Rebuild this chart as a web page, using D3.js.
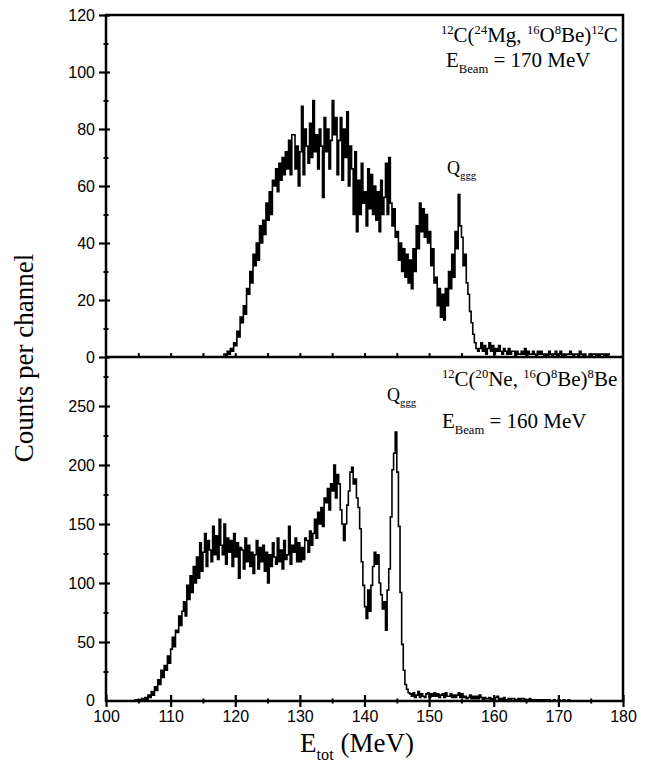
<!DOCTYPE html>
<html>
<head>
<meta charset="utf-8">
<script src="https://cdn.jsdelivr.net/npm/d3@7"></script>
<style>
  body { margin: 0; background: #fff; }
  svg { display: block; }
  text { white-space: pre; }
</style>
</head>
<body>
<svg id="chart" width="650" height="776"></svg>
<script>
// channel width of both spectra, MeV
const binWidth = 0.25;

// 12C(24Mg,16O8Be)12C, Ebeam = 170 MeV, first channel at 118 MeV
const mgStart = 118;
const mgCounts = [
  0, 1, 0, 2, 1, 3, 2, 5, 4, 9, 7, 14, 12, 18, 15, 24,
  22, 30, 26, 36, 32, 40, 34, 46, 40, 48, 43, 54, 48, 58, 50, 62,
  60, 66, 58, 68, 62, 70, 64, 72, 66, 76, 64, 78, 78, 66, 74, 60,
  72, 88, 64, 80, 74, 68, 82, 70, 90, 72, 78, 66, 80, 74, 56, 84,
  72, 80, 66, 76, 90, 78, 84, 64, 76, 84, 62, 80, 70, 86, 60, 74,
  66, 50, 72, 44, 62, 50, 68, 54, 58, 46, 66, 52, 64, 50, 60, 48,
  58, 44, 62, 50, 56, 68, 50, 70, 54, 46, 52, 42, 44, 34, 40, 30,
  38, 28, 36, 26, 34, 24, 38, 30, 46, 38, 54, 44, 52, 42, 50, 40,
  44, 32, 38, 26, 28, 18, 24, 14, 22, 13, 24, 18, 30, 24, 36, 28,
  44, 38, 57, 46, 42, 32, 36, 26, 22, 16, 12, 8, 5, 3, 2, 3,
  5, 2, 4, 1, 3, 5, 2, 4, 1, 3, 2, 4, 2, 1, 3, 2,
  1, 3, 1, 2, 2, 0, 2, 1, 1, 2, 1, 3, 0, 2, 1, 1,
  2, 1, 0, 2, 1, 2, 1, 0, 1, 0, 2, 1, 0, 1, 2, 0,
  1, 2, 0, 1, 0, 1, 1, 2, 1, 0, 1, 1, 0, 2, 1, 0,
  1, 0, 0, 1, 0, 1, 1, 0, 1, 0, 1, 1, 0, 1, 0, 1,
];

// 12C(20Ne,16O8Be)8Be, Ebeam = 160 MeV, first channel at 104 MeV
const neStart = 104;
const neCounts = [
  0, 0, 1, 0, 1, 0, 2, 1, 3, 1, 5, 3, 8, 5, 12, 9,
  18, 14, 26, 20, 30, 26, 38, 32, 44, 54, 46, 60, 58, 72, 64, 76,
  84, 72, 98, 86, 106, 92, 114, 100, 122, 104, 134, 110, 126, 142, 114, 136,
  128, 118, 148, 124, 140, 120, 154, 132, 124, 150, 116, 138, 126, 136, 114, 142,
  122, 134, 104, 130, 128, 112, 138, 118, 132, 114, 126, 108, 124, 136, 112, 130,
  118, 132, 110, 126, 100, 124, 114, 134, 122, 116, 138, 118, 128, 112, 136, 120,
  124, 148, 116, 132, 126, 138, 118, 134, 118, 130, 120, 138, 136, 126, 144, 132,
  142, 154, 138, 160, 150, 164, 148, 172, 168, 180, 162, 184, 178, 200, 172, 192,
  184, 162, 150, 136, 150, 166, 178, 194, 198, 184, 188, 172, 164, 146, 118, 98,
  80, 70, 94, 76, 98, 114, 126, 116, 124, 100, 90, 78, 84, 60, 94, 112,
  156, 196, 210, 228, 194, 148, 92, 48, 26, 14, 10, 7, 6, 4, 7, 3,
  5, 8, 3, 6, 4, 3, 6, 7, 3, 6, 4, 7, 4, 6, 3, 5,
  6, 3, 7, 4, 4, 6, 3, 5, 3, 5, 7, 3, 6, 3, 4, 2,
  3, 5, 2, 4, 2, 4, 2, 5, 3, 1, 3, 2, 2, 3, 1, 2,
  1, 3, 4, 1, 2, 1, 3, 1, 1, 2, 1, 2, 2, 1, 1, 2,
  1, 2, 2, 1, 1, 0, 2, 1, 1, 1, 0, 1, 0, 1, 1, 0,
  1, 0, 1, 0, 0, 1, 0, 0, 1, 0, 0, 1, 0, 0, 1, 0,
];

const xMajor = [100, 110, 120, 130, 140, 150, 160, 170, 180];
const xMinor = [105, 115, 125, 135, 145, 155, 165, 175];
const mgMajor = [0, 20, 40, 60, 80, 100, 120];
const mgMinor = [10, 30, 50, 70, 90, 110];
const neMajor = [0, 50, 100, 150, 200, 250];
const neMinor = [25, 75, 125, 175, 225, 275];

const serif = '"Liberation Serif", "Times New Roman", serif';
const sans = '"Liberation Sans", Arial, Helvetica, sans-serif';

const svg = d3.select('#chart');
const plotLeft = 106; const plotRight = 623;
const plotTop = 15; const plotMid = 357; const plotBottom = 701;

const x = d3.scaleLinear().domain([100, 180]).range([plotLeft, plotRight]);
const yMg = d3.scaleLinear().domain([0, 120]).range([plotMid, plotTop]);
const yNe = d3.scaleLinear().domain([0, 250]).range([plotBottom, 406]);

// spectra as step histograms
const toBins = (start, counts)=>{
  const pts = counts.map((c, i)=>[start + i*binWidth, c]);
  pts.push([start + counts.length*binWidth, counts[counts.length-1]]);
  return pts;
};

const drawSpectrum = (start, counts, y)=>{
  svg.append('path')
      .datum(toBins(start, counts))
      .attr('d', d3.line().x((d)=>x(d[0])).y((d)=>y(d[1])).curve(d3.curveStepAfter))
      .style('fill', 'none')
      .style('stroke', '#000')
      .style('stroke-width', 1.6)
      .style('stroke-linejoin', 'miter');
};

drawSpectrum(mgStart, mgCounts, yMg);
drawSpectrum(neStart, neCounts, yNe);

// ticks crossing the axis line: outer part with labels, inner part without
const addTicks = (axisFn, scale, pos, values, outer, inner, width, labels)=>{
  const g = svg.append('g').attr('transform', pos);
  if (outer > 0) {
    g.append('g').call(axisFn(scale).tickValues(values).tickSizeInner(outer).tickSizeOuter(0)
        .tickPadding(labels ? 4 : 0).tickFormat(labels ? d3.format('d') : ''));
  }
  g.append('g').call(axisFn(scale).tickValues(values).tickSizeInner(-inner).tickSizeOuter(0).tickFormat(''));
  g.selectAll('.domain').remove();
  g.selectAll('line').style('stroke', '#000').style('stroke-width', width);
  g.selectAll('text')
      .style('font-family', sans)
      .style('font-size', '16px')
      .style('fill', '#000');
  return g;
};

addTicks(d3.axisLeft, yMg, `translate(${plotLeft},0)`, mgMajor, 7, 4, 2.2, true);
addTicks(d3.axisLeft, yMg, `translate(${plotLeft},0)`, mgMinor, 2.5, 2.5, 2, false);
addTicks(d3.axisLeft, yNe, `translate(${plotLeft},0)`, neMajor.filter((v)=>v > 0), 7, 4, 2.2, true);
addTicks(d3.axisLeft, yNe, `translate(${plotLeft},0)`, neMinor, 2.5, 2.5, 2, false);
addTicks(d3.axisBottom, x, `translate(0,${plotBottom})`, xMajor, 6, 6, 2.2, true);
addTicks(d3.axisBottom, x, `translate(0,${plotBottom})`, xMinor, 2.5, 2.5, 2, false);
addTicks(d3.axisBottom, x, `translate(0,${plotMid})`, xMajor.slice(1, -1), 0, 4, 2, false);
addTicks(d3.axisBottom, x, `translate(0,${plotMid})`, xMinor, 0, 4, 2, false);

// bottom panel zero label sits on the x axis
svg.append('text')
    .attr('x', plotLeft - 11)
    .attr('y', yNe(0))
    .attr('dy', '0.32em')
    .attr('text-anchor', 'end')
    .style('font-family', sans)
    .style('font-size', '16px')
    .text('0');

// frame and panel divider
svg.append('rect')
    .attr('x', plotLeft).attr('y', plotTop)
    .attr('width', plotRight - plotLeft).attr('height', plotBottom - plotTop)
    .style('fill', 'none')
    .style('stroke', '#000')
    .style('stroke-width', 2.5);

svg.append('line')
    .attr('x1', plotLeft).attr('x2', plotRight)
    .attr('y1', plotMid).attr('y2', plotMid)
    .style('stroke', '#000')
    .style('stroke-width', 2.5);

// text with super / subscripts
const richText = (xPos, yPos, parts, size, anchor)=>{
  const t = svg.append('text')
      .attr('x', xPos).attr('y', yPos)
      .attr('text-anchor', anchor || 'start')
      .style('font-family', serif)
      .style('font-size', size + 'px')
      .style('fill', '#000');
  let shift = 0;
  parts.forEach(([str, kind])=>{
    const s = kind == 'sup' ? -0.4*size : (kind == 'sub' ? 0.28*size : 0);
    const ts = t.append('tspan').attr('dy', s - shift).text(str);
    if (kind) ts.style('font-size', (0.6*size) + 'px');
    shift = s;
  });
  return t;
};

richText(441, 42, [['12', 'sup'], ['C('], ['24', 'sup'], ['Mg, '], ['16', 'sup'], ['O'], ['8', 'sup'], ['Be)'], ['12', 'sup'], ['C']], 21);
richText(446, 67, [['E'], ['Beam', 'sub'], [' = 170 MeV']], 21);
richText(447, 174, [['Q'], ['ggg', 'sub']], 18);

richText(442, 386, [['12', 'sup'], ['C('], ['20', 'sup'], ['Ne, '], ['16', 'sup'], ['O'], ['8', 'sup'], ['Be)'], ['8', 'sup'], ['Be']], 21);
richText(442, 428, [['E'], ['Beam', 'sub'], [' = 160 MeV']], 21);
richText(387, 401, [['Q'], ['ggg', 'sub']], 18);

// axis titles
richText(357, 752, [['E'], ['tot', 'sub'], [' (MeV)']], 27, 'middle');

svg.append('text')
    .attr('transform', `translate(33,${(plotTop + plotBottom)/2}) rotate(-90)`)
    .attr('text-anchor', 'middle')
    .style('font-family', serif)
    .style('font-size', '27px')
    .text('Counts per channel');
</script>
</body>
</html>
